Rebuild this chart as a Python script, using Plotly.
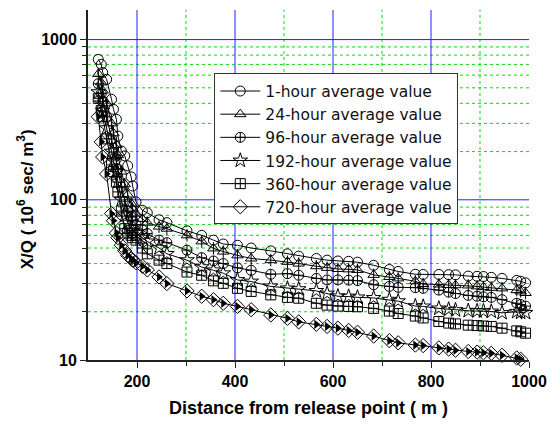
import plotly.graph_objects as go
import math

distance = [121,127,130,138,148,152,158,161,168,175,181,188,191,198,211,221,245,261,302,332,
            356,376,405,433,473,507,530,566,588,610,632,650,683,715,733,768,784,816,836,850,
            876,894,907,923,945,975,983,993]

hour1 = [752,700,623,565,424,367,318,250,202,188,163,139,122,97,86,83,75,72,64,60,
         56,53,52,50,48,46,44.5,43,42,41.5,41.3,40.8,39,36.7,35.7,34.3,34.2,34.2,34.1,34,
         33.4,33.3,33.2,32.8,32.3,31.4,31,30.3]
hour24 = [610,540,480,400,300,260,220,190,150,125,108,95,88,82,76,72,68,66,60,55,
          49.7,47.5,45,43,42,41,40,38.5,37.6,37,36.8,36.5,34,33,32.3,31,29.8,29.6,29.4,29.3,
          29.2,28.8,28.5,28.2,28,27.3,26.8,26.2]
hour96 = [530,460,410,330,240,210,180,155,120,98,85,78,74,70,65,61.6,56,54,48.5,43.5,
          41.5,40,37.6,36.3,34.3,34.6,33.8,32.3,31.6,31.6,31.5,31.3,29.5,28.8,28.4,28.3,28,27.3,26.5,26,
          25.3,25,24.8,24.6,23.8,22.6,22.2,21.7]
hour192 = [470,400,360,280,200,175,150,130,100,80,72,67,64,62,58,55,50,46,42,38,
           36.3,34.8,31.6,30.9,28.8,28,27.7,27,26,25,24.9,24.6,24.4,23.8,23.3,21.7,21.6,21,20.7,20.5,
           20.3,20.2,20.2,20.1,19.7,20,19.8,19.7]
hour360 = [430,360,330,240,165,150,129,112,85,66,62,60,58,56,50,46,42,40,35.4,33.8,
           31.2,30.1,28,26.8,25.5,24.6,24.3,22.6,22,21.7,21.6,21.5,21,20.2,19.5,18.8,18.3,17.4,17,16.8,
           16.5,16.4,16.3,16.2,15.8,15.2,15,14.7]
hour720 = [330,230,185,145,82,74,62,58,52,48,45,43,42,40.5,38.5,36.5,33,30,27,25,
           23.8,22.6,21.6,20.6,19.1,18.2,17.3,16.7,16.2,15.8,15.3,14.9,14.1,13.2,12.8,12.4,12.3,11.9,11.7,11.5,
           11.3,11.2,11.1,11,10.7,10.3,10.1,9.9]

names = ["1-hour average value", "24-hour average value", "96-hour average value",
         "192-hour average value", "360-hour average value", "720-hour average value"]
series = [hour1, hour24, hour96, hour192, hour360, hour720]
symbols = ["circle-open", "triangle-up-open", "circle-cross-open", "star-open",
           "square-cross-open", "diamond-open"]
sizes = [10, 10, 10, 11, 10, 11]

x_major = [200, 400, 600, 800, 1000]
x_minor = [300, 500, 700, 900]
y_major = [10, 100, 1000]
y_minor = [20, 30, 40, 50, 60, 70, 80, 90, 200, 300, 400, 500, 600, 700, 800, 900]

FONT = "Liberation Sans, Arial, sans-serif"
BLUE = "#2020ff"
GREEN = "#00e000"

fig = go.Figure()

# grid lines (drawn below the data)
for v in x_minor:
    fig.add_shape(type="line", xref="x", yref="paper", x0=v, x1=v, y0=0, y1=1,
                  line=dict(color=GREEN, width=1, dash="dot"), layer="below")
for v in y_minor:
    fig.add_shape(type="line", xref="paper", yref="y", x0=0, x1=1, y0=v, y1=v,
                  line=dict(color=GREEN, width=1, dash="dot"), layer="below")
for v in x_major[:-1]:
    fig.add_shape(type="line", xref="x", yref="paper", x0=v, x1=v, y0=0, y1=1,
                  line=dict(color=BLUE, width=1), layer="below")
for v in y_major[1:]:
    fig.add_shape(type="line", xref="paper", yref="y", x0=0, x1=1, y0=v, y1=v,
                  line=dict(color=BLUE, width=1), layer="below")

for name, vals, sym, sz in zip(names, series, symbols, sizes):
    fig.add_trace(go.Scatter(
        x=distance, y=vals, name=name, mode="lines+markers",
        line=dict(color="black", width=1),
        marker=dict(symbol=sym, size=sz, color="black", line=dict(color="black", width=1)),
        cliponaxis=False,
    ))

# overlay details: vertical stroke in triangles, filled half of diamonds
fig.add_trace(go.Scatter(x=distance, y=hour24, mode="markers", showlegend=False,
                         marker=dict(symbol="line-ns-open", size=9, color="black",
                                     line=dict(color="black", width=1)),
                         cliponaxis=False, hoverinfo="skip"))
fig.add_trace(go.Scatter(x=distance, y=hour720, mode="markers", showlegend=False,
                         marker=dict(symbol="triangle-right", size=8, color="black", line=dict(width=0)),
                         cliponaxis=False, hoverinfo="skip"))

L, R, T, B = 88, 22, 10, 62
W, H = 557, 425
pw, ph = W - L - R, H - T - B

def px2paper(x, y):
    return (x - L) / pw, 1 - (y - T) / ph

# legend drop shadow
lx0, ly0, lx1, ly1 = 216, 74, 456, 222
sx0, sy0 = px2paper(lx0 + 3, ly1 + 3)
sx1, sy1 = px2paper(lx1 + 3, ly0 + 3)
fig.add_shape(type="rect", xref="paper", yref="paper", x0=sx0, x1=sx1, y0=sy0, y1=sy1,
              fillcolor="#6e6e6e", line=dict(width=0), layer="above")

legx, legy = px2paper(lx0, ly0)

# y-axis title as rotated annotation
tx, ty = px2paper(25, 201)
fig.add_annotation(x=tx, y=ty, xref="paper", yref="paper", textangle=-90,
                   text="X/Q ( 10<sup>6</sup> sec/ m<sup>3</sup>)", showarrow=False,
                   xanchor="center", yanchor="middle",
                   font=dict(family=FONT, size=17, weight="bold", color="black"))

fig.update_layout(
    width=W, height=H,
    margin=dict(l=L, r=R, t=T, b=B),
    paper_bgcolor="white", plot_bgcolor="white",
    font=dict(family=FONT, color="black"),
    showlegend=True,
    legend=dict(x=legx, y=legy, xanchor="left", yanchor="top",
                bgcolor="white", bordercolor="#333333", borderwidth=1,
                font=dict(family="DejaVu Sans, sans-serif", size=15.5, color="#111111"),
                tracegroupgap=0, itemwidth=40),
)

fig.update_xaxes(
    type="linear", range=[100, 1000],
    tickmode="array", tickvals=x_major, ticktext=[str(v) for v in x_major],
    showgrid=False,
    showline=True, linecolor="#222222", linewidth=2,
    ticks="outside", ticklen=6, tickwidth=1, tickcolor="#222222",
    tickfont=dict(family=FONT, size=16, weight="bold"),
    minor=dict(tickmode="array", tickvals=x_minor, ticks="outside", ticklen=4,
               tickcolor="#222222", showgrid=False),
    zeroline=False,
    title=dict(text="Distance from release point ( m )", standoff=12,
               font=dict(family=FONT, size=18, weight="bold")),
)
fig.update_yaxes(
    type="log", range=[1, math.log10(1530)],
    tickmode="array", tickvals=y_major, ticktext=[str(v) for v in y_major],
    showgrid=False,
    showline=True, linecolor="#222222", linewidth=2,
    ticks="outside", ticklen=6, tickwidth=1, tickcolor="#222222",
    tickfont=dict(family=FONT, size=16, weight="bold"),
    minor=dict(tickmode="array", tickvals=y_minor, ticks="outside", ticklen=4,
               tickcolor="#222222", showgrid=False),
    zeroline=False,
)

fig.write_html("out.html")
